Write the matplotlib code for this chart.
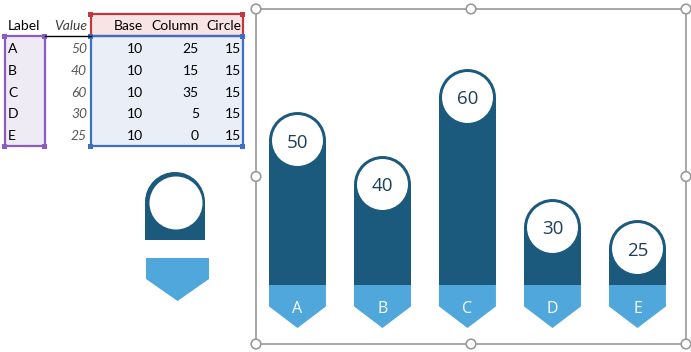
import numpy as np
import matplotlib.pyplot as plt
from matplotlib.patches import Polygon, Rectangle, Circle, Wedge

# data
labels = ['A', 'B', 'C', 'D', 'E']
values = [50, 40, 60, 30, 25]
base = [10, 10, 10, 10, 10]
column = [25, 15, 35, 5, 0]
circle = [15, 15, 15, 15, 15]
headers = ['Label', 'Value', 'Base', 'Column', 'Circle']

DARK = '#1C5A7D'
LIGHT = '#4FA7DB'
NUMCOL = '#1D3F58'

fig = plt.figure(figsize=(6.91, 3.52), dpi=100)

# overlay in pixel coords for the worksheet part
ov = fig.add_axes([0, 0, 1, 1])
ov.set_xlim(0, 691)
ov.set_ylim(352, 0)
ov.axis('off')

# table fills
ov.add_patch(Rectangle((5, 36), 40, 110, fc='#EFEBF5', ec='none'))
ov.add_patch(Rectangle((91, 14), 152, 22, fc='#F8E4E4', ec='none'))
ov.add_patch(Rectangle((91, 36), 152, 110, fc='#E9EEF7', ec='none'))
ov.plot([45, 91], [36, 36], color='black', lw=1)

def range_box(x0, y0, x1, y1, col):
    ov.add_patch(Rectangle((x0, y0), x1 - x0, y1 - y0, fc='none', ec=col, lw=1.6))
    for cx in (x0, x1):
        for cy in (y0, y1):
            ov.add_patch(Rectangle((cx - 2.5, cy - 2.5), 5, 5, fc=col, ec='none'))

range_box(5, 36, 45, 146, '#8A5CC2')
range_box(91, 14, 243, 36, '#C0393E')
range_box(91, 36, 243, 146, '#3D6FC4')

tfont = 'Lato'
fs = 10
ov.text(8, 26, headers[0], fontsize=fs, family=tfont, va='center', ha='left')
ov.text(87, 26, headers[1], fontsize=fs, family=tfont, va='center', ha='right',
        style='italic', color='#404040')
for h, xr in zip(headers[2:], [143, 199, 241]):
    ov.text(xr, 26, h, fontsize=fs, family=tfont, va='center', ha='right')
for i in range(len(labels)):
    y = 48.8 + 21.9 * i
    ov.text(8, y, labels[i], fontsize=fs, family=tfont, va='center', ha='left')
    ov.text(87, y, str(values[i]), fontsize=fs, family=tfont, va='center', ha='right',
            style='italic', color='#595959')
    for v, xr in zip([base[i], column[i], circle[i]], [143, 199, 241]):
        ov.text(xr, y, str(v), fontsize=fs, family=tfont, va='center', ha='right')

# the two icon shapes on the sheet
ov.add_patch(Rectangle((145, 202), 60, 38, fc=DARK, ec='none'))
ov.add_patch(Wedge((175, 202), 30, 180, 360, fc=DARK, ec='none'))
ov.add_patch(Circle((176, 203), 26.5, fc='white', ec='none'))
ov.add_patch(Polygon([(146, 258), (209, 258), (209, 279), (177.5, 301), (146, 279)],
                     closed=True, fc=LIGHT, ec='none'))

# chart frame with handles
fx0, fy0, fx1, fy1 = 256, 9, 686, 344
ov.add_patch(Rectangle((fx0, fy0), fx1 - fx0, fy1 - fy0, fc='none', ec='#A0A0A0', lw=1.3))
fxm, fym = (fx0 + fx1) / 2, (fy0 + fy1) / 2
for hx, hy in [(fx0, fy0), (fxm, fy0), (fx1, fy0), (fx0, fym), (fx1, fym),
               (fx0, fy1), (fxm, fy1), (fx1, fy1)]:
    ov.add_patch(Circle((hx, hy), 4.8, fc='white', ec='#9A9A9A', lw=1.2, zorder=5))

# chart
ax = fig.add_axes([256 / 691, 8 / 352, 430 / 691, 335 / 352])
ax.set_facecolor('none')
ax.set_xlim(-0.488, 4.571)
ax.set_ylim(-3.7, 73.8)
ax.axis('off')

x = np.arange(len(labels))
w = 0.67
base = np.array(base)
column = np.array(column)
circle = np.array(circle)

# pixel scale to keep the caps round
p0 = ax.transData.transform((0, 0))
p1 = ax.transData.transform((1, 1))
px_x = p1[0] - p0[0]
px_y = p1[1] - p0[1]
cap_px = w * px_x
r_data = (cap_px / 2) / px_y
pt = 72 / fig.dpi

# base pentagons
for xi, b in zip(x, base):
    ax.add_patch(Polygon([(xi - w / 2, b), (xi + w / 2, b), (xi + w / 2, b / 2),
                          (xi, 0), (xi - w / 2, b / 2)], closed=True, fc=LIGHT, ec='none'))

ax.bar(x, column, bottom=base, width=w, color=DARK, linewidth=0)
top = base + column + circle
ctr = top - r_data
ax.bar(x, circle - r_data, bottom=base + column, width=w, color=DARK, linewidth=0)
ax.scatter(x, ctr, s=(cap_px * pt) ** 2, color=DARK, linewidths=0, zorder=3)
ax.scatter(x, ctr, s=((cap_px - 6) * pt) ** 2, color='white', linewidths=0, zorder=4)

for xi, c, v in zip(x, ctr, values):
    ax.text(xi, c - 0.5, str(v), ha='center', va='center', fontsize=13.5,
            family='Open Sans', color=NUMCOL, zorder=5)
for xi, b, lab in zip(x, base, labels):
    ax.text(xi, b * 0.45, lab, ha='center', va='center', fontsize=11.5,
            family='Open Sans', color='white', zorder=5)

fig.savefig('out.png', dpi=100)
